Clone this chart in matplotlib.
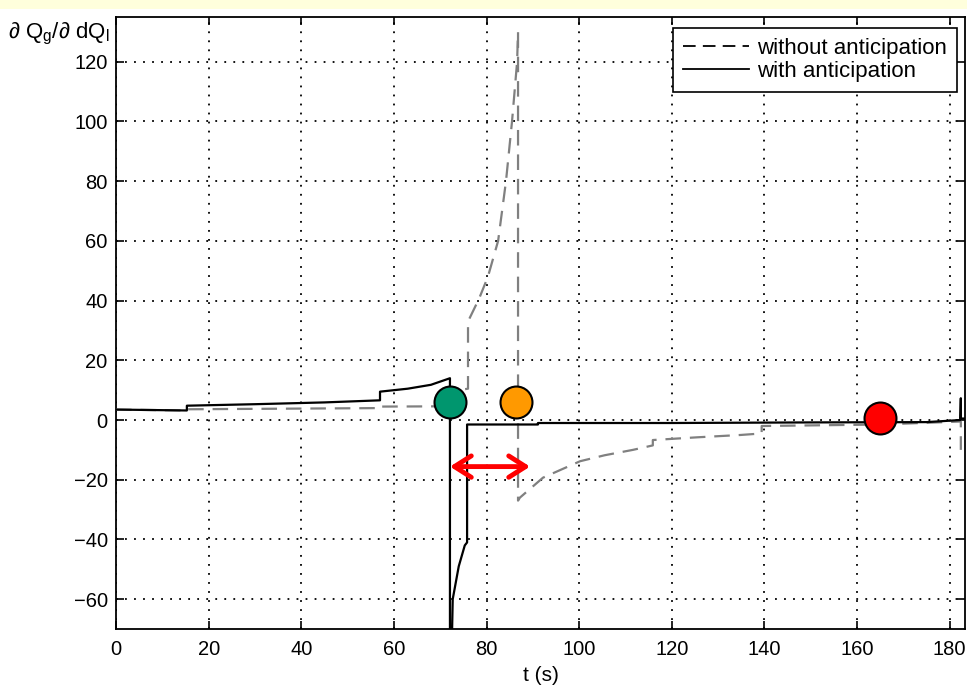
import numpy as np
import matplotlib.pyplot as plt
from matplotlib.patches import Rectangle

plt.rcParams['font.family'] = ['Liberation Sans', 'DejaVu Sans']
plt.rcParams['mathtext.fontset'] = 'custom'
plt.rcParams['mathtext.rm'] = 'Liberation Sans'
plt.rcParams['mathtext.it'] = 'Liberation Sans:italic'

# ---- data ----
t_with = [0, 15.3, 15.3, 30, 45, 57.0, 57.0, 63, 68, 72.1, 72.1, 72.5, 72.7, 74.0, 75.3, 75.8,
          75.8, 91.1, 91.1, 120, 150, 175, 182.3, 182.4, 182.4, 183.3]
q_with = [3.5, 3.2, 4.8, 5.3, 5.9, 6.6, 9.5, 10.5, 11.8, 14.0, -75, -75, -60, -49, -42, -41,
          -1.5, -1.5, -1.0, -1.0, -0.8, -0.7, 0.0, 7.3, 0.5, 0.5]

t_without = [0, 15.3, 15.3, 57.0, 57.0, 72.1, 72.1, 76.0, 76.0, 78.4, 80.3, 82.5, 84.2, 85.5,
             86.6, 86.8, 86.8, 87.2, 92.2, 100.2, 105.5, 111.6, 115.9, 115.9, 125.4, 134.9,
             139.4, 139.4, 150, 165, 182.4, 182.4]
q_without = [3.5, 3.2, 3.6, 4.0, 4.5, 4.6, 9.5, 10.5, 33, 40.7, 48, 60, 80, 100, 120, 130,
             -27, -26, -19.3, -13.8, -11.8, -10, -8.5, -6.7, -5.8, -5.0, -4.5, -2.0, -1.8, -1.5,
             -0.5, -10]

event_t = [72.1, 86.3, 164.9]
event_q = [6.0, 6.0, 0.7]
event_colors = ['#00966E', '#FF9900', '#FF0000']

arrow_t = [72.1, 89.4]
arrow_q = -15.6

xticks = np.arange(0, 181, 20)
yticks = np.arange(-60, 121, 20)

# ---- figure ----
fig = plt.figure(figsize=(9.67, 6.92), dpi=100)
fig.patches.append(Rectangle((0, 1 - 9 / 692), 1, 9 / 692, transform=fig.transFigure,
                             facecolor='#FFFFDC', edgecolor='none', zorder=0))
ax = fig.add_axes([116 / 967, 1 - 629 / 692, (965 - 116) / 967, (629 - 17) / 692])

ax.plot(t_without, q_without, color='0.5', lw=1.6, linestyle=(0, (7, 4)), zorder=3)
ax.plot(t_with, q_with, color='black', lw=1.6, zorder=4)

for t, q, c in zip(event_t, event_q, event_colors):
    ax.plot(t, q, 'o', ms=23, mfc=c, mec='black', mew=1.5, zorder=6)

ax.annotate('', xy=(arrow_t[0], arrow_q), xytext=(arrow_t[1], arrow_q),
            arrowprops=dict(arrowstyle='<->,head_length=0.55,head_width=0.35',
                            color='red', lw=3.5, mutation_scale=22, shrinkA=0, shrinkB=0),
            zorder=7)

ax.set_xlim(0, 183.3)
ax.set_ylim(-70, 135)
ax.set_xticks(xticks)
ax.set_yticks(yticks)
ax.grid(True, color='black', linestyle=(0, (1, 4)), lw=1.3)
ax.tick_params(direction='in', length=6, width=1.2, top=True, right=True,
               labelsize=14.5, pad=6)
ax.tick_params(axis='x', pad=8)
for s in ax.spines.values():
    s.set_linewidth(1.3)

ax.set_xlabel('t (s)', fontsize=15, labelpad=5)
fig.text(8 / 967, 1 - 38 / 692, '∂ Q$_{\\rm g}$/∂ dQ$_{\\rm l}$', fontsize=16,
         va='baseline', ha='left')

leg_lines = [plt.Line2D([0], [0], color='black', lw=1.3, linestyle=(0, (7, 4))),
             plt.Line2D([0], [0], color='black', lw=1.3)]
ax.legend(leg_lines, ['without anticipation', 'with anticipation'],
          loc='upper right', bbox_to_anchor=(957 / 967, 1 - 28 / 692),
          bbox_transform=fig.transFigure, borderaxespad=0, fontsize=16,
          handlelength=3.0, handletextpad=0.35, labelspacing=0.1,
          borderpad=0.45, fancybox=False, framealpha=1, edgecolor='black')
ax.get_legend().get_frame().set_linewidth(1.2)

fig.savefig('out.png', dpi=100)
